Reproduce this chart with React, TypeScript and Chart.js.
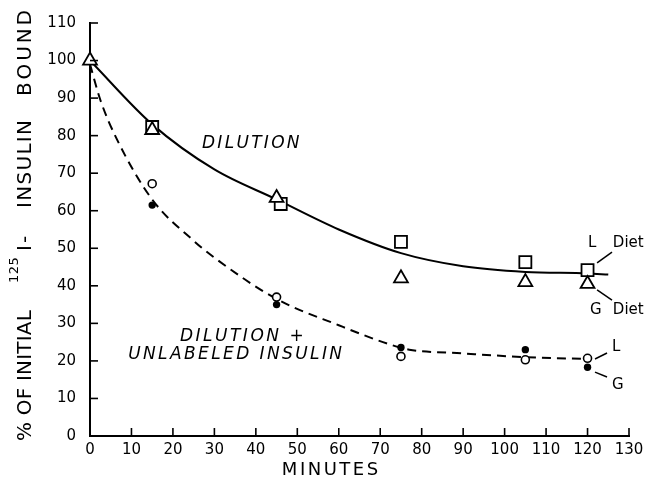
import { useEffect, useRef } from "react";
import { Chart, registerables } from "chart.js";

Chart.register(...registerables);

// ---- data ----
const xTicks = [0, 10, 20, 30, 40, 50, 60, 70, 80, 90, 100, 110, 120, 130];
const yTicks = [0, 10, 20, 30, 40, 50, 60, 70, 80, 90, 100, 110];

const squareMinutes = [15, 46, 75, 105, 120];
const squareValues = [82.3, 61.8, 51.7, 46.3, 44.2];

const triangleMinutes = [0, 15, 45, 75, 105, 120];
const triangleValues = [100, 81.5, 63.4, 42.0, 41.0, 40.5];

const openMinutes = [15, 45, 75, 105, 120];
const openValues = [67.2, 37.0, 21.2, 20.3, 20.7];

const filledMinutes = [15, 45, 75, 105, 120];
const filledValues = [61.5, 35.0, 23.6, 23.0, 18.3];

const solidCurveMinutes = [0, 15, 30, 45, 60, 75, 90, 105, 120, 125];
const solidCurveValues = [100, 83, 71, 63, 55, 48.7, 45.2, 43.7, 43.3, 43];

const dashedCurveMinutes = [0, 2.5, 6.5, 15, 25, 30, 45, 60, 72, 77, 90, 105, 120];
const dashedCurveValues = [99, 89.5, 79, 63, 52, 47.5, 36.5, 29.5, 24.5, 23, 22, 21, 20.5];

const xTitle = "MINUTES";
const yTitleA = "% OF INITIAL";
const yTitleSup = "125";
const yTitleWords = ["I-", "INSULIN", "BOUND"];

const pts = (xs: number[], ys: number[]) => xs.map((x, i) => ({ x, y: ys[i] }));

const FONT = '"DejaVu Sans", sans-serif';

function drawSpaced(
  ctx: CanvasRenderingContext2D,
  text: string,
  x: number,
  y: number,
  spacing: number,
  align: "left" | "center" = "left"
) {
  const chars = [...text];
  const widths = chars.map((c) => ctx.measureText(c).width);
  const total = widths.reduce((a, b) => a + b, 0) + spacing * (chars.length - 1);
  let cx = align === "center" ? x - total / 2 : x;
  ctx.textAlign = "left";
  chars.forEach((c, i) => {
    ctx.fillText(c, cx, y);
    cx += widths[i] + spacing;
  });
  return total;
}

// draw a word so it spans from start to end (fits letter spacing)
function drawFitted(ctx: CanvasRenderingContext2D, text: string, start: number, end: number, y: number) {
  const chars = [...text];
  const base = chars.reduce((a, c) => a + ctx.measureText(c).width, 0);
  const sp = chars.length > 1 ? Math.max(0, (end - start - base) / (chars.length - 1)) : 0;
  drawSpaced(ctx, text, start, y, sp);
}

const annotPlugin = {
  id: "annot",
  afterDraw(chart: any) {
    const ctx: CanvasRenderingContext2D = chart.ctx;
    const xs = chart.scales.x;
    const ys = chart.scales.y;
    const ca = chart.chartArea;
    const px = (v: number) => xs.getPixelForValue(v);
    const py = (v: number) => ys.getPixelForValue(v);
    ctx.save();
    ctx.strokeStyle = "#000";
    ctx.fillStyle = "#000";
    ctx.lineWidth = 1.6;
    // inward tick marks
    yTicks.forEach((v) => {
      ctx.beginPath();
      ctx.moveTo(ca.left, py(v));
      ctx.lineTo(ca.left + 8, py(v));
      ctx.stroke();
    });
    xTicks.forEach((v) => {
      ctx.beginPath();
      ctx.moveTo(px(v), ca.bottom);
      ctx.lineTo(px(v), ca.bottom - 8);
      ctx.stroke();
    });

    // connectors
    const seg = (a: number[], b: number[]) => {
      ctx.beginPath();
      ctx.moveTo(px(a[0]), py(a[1]));
      ctx.lineTo(px(b[0]), py(b[1]));
      ctx.stroke();
    };
    ctx.lineWidth = 1.5;
    seg([122.3, 46.1], [125.9, 49.0]);
    seg([122.3, 38.9], [125.9, 36.2]);
    seg([121.8, 20.5], [124.7, 22.1]);
    seg([121.8, 17.0], [124.7, 15.7]);

    ctx.textBaseline = "middle";
    // italic annotations
    ctx.font = `italic 17px ${FONT}`;
    drawSpaced(ctx, "DILUTION", px(27.0), py(78.0), 2.3);
    drawSpaced(ctx, "DILUTION +", px(21.7), py(26.6), 2.5);
    drawSpaced(ctx, "UNLABELED INSULIN", px(9.2), py(21.6), 2.4);

    // diet labels
    ctx.font = `15px ${FONT}`;
    ctx.textAlign = "left";
    ctx.fillText("L", px(120.1), py(51.4));
    ctx.fillText("Diet", px(126.1), py(51.4));
    ctx.fillText("G", px(120.6), py(33.6));
    ctx.fillText("Diet", px(126.1), py(33.6));
    ctx.fillText("L", px(125.9), py(23.7));
    ctx.fillText("G", px(125.9), py(13.6));

    // x title
    ctx.font = `18px ${FONT}`;
    drawSpaced(ctx, xTitle, 330, 470, 2.5, "center");

    // y title (rotated, reading bottom to top)
    ctx.translate(26, 441);
    ctx.rotate(-Math.PI / 2);
    ctx.font = `20px ${FONT}`;
    drawSpaced(ctx, yTitleA, 0, 0, 0.2);
    ctx.font = `13px ${FONT}`;
    drawSpaced(ctx, yTitleSup, 158, -11, 0.5);
    ctx.font = `20px ${FONT}`;
    drawSpaced(ctx, yTitleWords[0], 190, 0, 2);
    drawFitted(ctx, yTitleWords[1], 233, 321, 0);
    drawFitted(ctx, yTitleWords[2], 345, 431, 0);
    ctx.restore();
  },
};

export default function App() {
  const ref = useRef<HTMLCanvasElement>(null);
  useEffect(() => {
    if (!ref.current) return;
    const tickFont = { family: FONT, size: 15 };
    const chart = new Chart(ref.current, {
      type: "scatter",
      data: {
        datasets: [
          {
            data: pts(triangleMinutes, triangleValues),
            pointStyle: "triangle",
            pointRadius: 8,
            pointBackgroundColor: "#fff",
            pointBorderColor: "#000",
            pointBorderWidth: 1.8,
            showLine: false,
            clip: false,
          },
          {
            data: pts(squareMinutes, squareValues),
            pointStyle: "rect",
            pointRadius: 8.5,
            pointBackgroundColor: "#fff",
            pointBorderColor: "#000",
            pointBorderWidth: 1.8,
            showLine: false,
            clip: false,
          },
          {
            data: pts(openMinutes, openValues),
            pointStyle: "circle",
            pointRadius: 4,
            pointBackgroundColor: "#fff",
            pointBorderColor: "#000",
            pointBorderWidth: 1.6,
            showLine: false,
            clip: false,
          },
          {
            data: pts(filledMinutes, filledValues),
            pointStyle: "circle",
            pointRadius: 3.7,
            pointBackgroundColor: "#000",
            pointBorderColor: "#000",
            pointBorderWidth: 0,
            showLine: false,
            clip: false,
          },
          {
            data: pts(solidCurveMinutes, solidCurveValues),
            showLine: true,
            pointRadius: 0,
            borderColor: "#000",
            borderWidth: 2,
            cubicInterpolationMode: "monotone",
            clip: false,
          },
          {
            data: pts(dashedCurveMinutes, dashedCurveValues),
            showLine: true,
            pointRadius: 0,
            borderColor: "#000",
            borderWidth: 2,
            borderDash: [9, 6],
            cubicInterpolationMode: "monotone",
            clip: false,
          },
        ],
      },
      options: {
        responsive: false,
        animation: false,
        devicePixelRatio: 1,
        layout: { padding: { left: 0, right: 23, top: 23, bottom: 0 } },
        plugins: { legend: { display: false }, tooltip: { enabled: false } },
        scales: {
          x: {
            type: "linear",
            min: 0,
            max: 130,
            afterBuildTicks: (s: any) => {
              s.ticks = xTicks.map((v) => ({ value: v }));
            },
            ticks: { color: "#000", font: tickFont, padding: 5, maxRotation: 0, autoSkip: false },
            grid: { display: false, drawTicks: false },
            border: { display: true, color: "#000", width: 2 },
            afterFit: (s: any) => {
              s.height = 49;
            },
          },
          y: {
            type: "linear",
            min: 0,
            max: 110,
            afterBuildTicks: (s: any) => {
              s.ticks = yTicks.map((v) => ({ value: v }));
            },
            ticks: { color: "#000", font: tickFont, padding: 14, autoSkip: false },
            grid: { display: false, drawTicks: false },
            border: { display: true, color: "#000", width: 2 },
            afterFit: (s: any) => {
              s.width = 90;
            },
          },
        },
      } as any,
      plugins: [annotPlugin],
    });
    return () => chart.destroy();
  }, []);
  return (
    <div style={{ position: "absolute", left: 0, top: 0, width: 652, height: 485, background: "#fff" }}>
      <canvas ref={ref} width={652} height={485} style={{ display: "block" }} />
    </div>
  );
}
